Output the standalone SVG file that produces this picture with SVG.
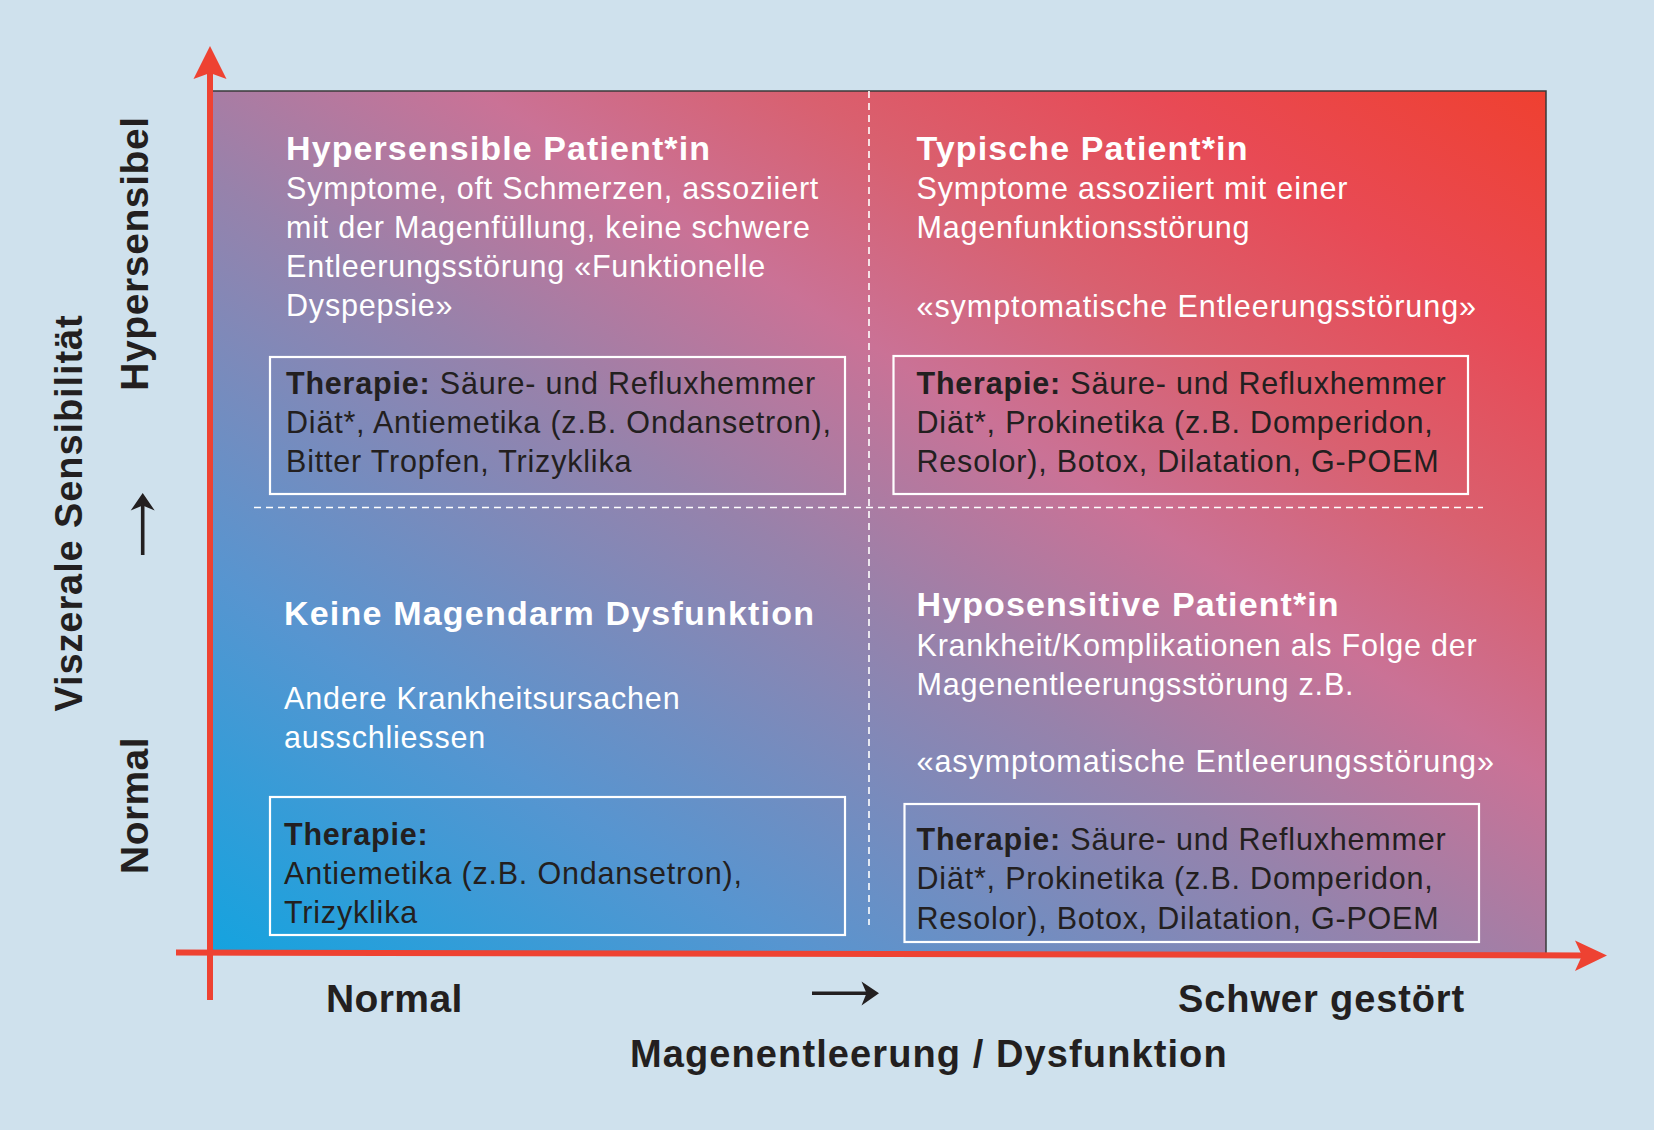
<svg xmlns="http://www.w3.org/2000/svg" width="1654" height="1130" viewBox="0 0 1654 1130">
<defs>
<linearGradient id="grad" x1="0" y1="1" x2="1" y2="0">
<stop offset="0" stop-color="#14a3df"/>
<stop offset="0.22" stop-color="#5795d0"/>
<stop offset="0.45" stop-color="#9782ab"/>
<stop offset="0.6" stop-color="#ca7296"/>
<stop offset="0.72" stop-color="#d9606f"/>
<stop offset="0.85" stop-color="#e84a55"/>
<stop offset="1" stop-color="#ef4030"/>
</linearGradient>
<style>
.t{font-family:"Liberation Sans",Arial,sans-serif;font-weight:bold;font-size:34px;fill:#fff;letter-spacing:1.1px}
.b{font-family:"Liberation Sans",Arial,sans-serif;font-size:30.5px;fill:#fff;letter-spacing:0.8px}
.q{letter-spacing:0.95px}
.th{font-family:"Liberation Sans",Arial,sans-serif;font-size:30.5px;fill:#231f20;letter-spacing:0.8px}
.k{font-weight:bold}
.ax{font-family:"Liberation Sans",Arial,sans-serif;font-weight:bold;font-size:38px;fill:#231f20;letter-spacing:0.9px}
.box{fill:none;stroke:#fff;stroke-width:2.2}
.dash{stroke:#fff;stroke-width:1.6;stroke-dasharray:7 5;fill:none}
.red{fill:#ee4232}
.blk{fill:#231f20}
</style>
</defs>
<rect x="0" y="0" width="1654" height="1130" fill="#cfe1ed"/>
<rect x="211" y="91" width="1335" height="862" fill="url(#grad)"/>
<path d="M211,91 H1546 V953" fill="none" stroke="#3a3a3a" stroke-width="1.5"/>
<g id="dividers">
<line class="dash" x1="254" y1="507.5" x2="1483" y2="507.5"/>
<line class="dash" x1="869" y1="91" x2="869" y2="925"/>
</g>
<g id="q-hypersensible">
<text class="t" x="286" y="159.5">Hypersensible Patient*in</text>
<text class="b" x="286" y="199">Symptome, oft Schmerzen, assoziiert</text>
<text class="b" x="286" y="238">mit der Magenfüllung, keine schwere</text>
<text class="b" x="286" y="277">Entleerungsstörung «Funktionelle</text>
<text class="b" x="286" y="315.5">Dyspepsie»</text>
<rect class="box" x="270" y="357" width="575" height="137"/>
<text class="th" x="286" y="393.5"><tspan class="k">Therapie:</tspan> Säure- und Refluxhemmer</text>
<text class="th" x="286" y="432.5">Diät*, Antiemetika (z.B. Ondansetron),</text>
<text class="th" x="286" y="471.5">Bitter Tropfen, Trizyklika</text>
</g>
<g id="q-typisch">
<text class="t" x="916.5" y="160">Typische Patient*in</text>
<text class="b" x="916.5" y="198.5">Symptome assoziiert mit einer</text>
<text class="b" x="916.5" y="238">Magenfunktionsstörung</text>
<text class="b q" x="916.5" y="316.5">«symptomatische Entleerungsstörung»</text>
<rect class="box" x="893.5" y="356" width="574.5" height="138"/>
<text class="th" x="916.5" y="394"><tspan class="k">Therapie:</tspan> Säure- und Refluxhemmer</text>
<text class="th" x="916.5" y="433">Diät*, Prokinetika (z.B. Domperidon,</text>
<text class="th" x="916.5" y="471.5">Resolor), Botox, Dilatation, G-POEM</text>
</g>
<g id="q-keine">
<text class="t" x="284" y="625" style="letter-spacing:1.2px">Keine Magendarm Dysfunktion</text>
<text class="b" x="284" y="709">Andere Krankheitsursachen</text>
<text class="b" x="284" y="747.5">ausschliessen</text>
<rect class="box" x="270" y="797" width="575" height="138"/>
<text class="th" x="284" y="844.5"><tspan class="k">Therapie:</tspan></text>
<text class="th" x="284" y="883.5">Antiemetika (z.B. Ondansetron),</text>
<text class="th" x="284" y="922.5">Trizyklika</text>
</g>
<g id="q-hyposensitiv">
<text class="t" x="916.5" y="616">Hyposensitive Patient*in</text>
<text class="b" x="916.5" y="655.5">Krankheit/Komplikationen als Folge der</text>
<text class="b" x="916.5" y="694.5">Magenentleerungsstörung z.B.</text>
<text class="b q" x="916.5" y="771.5">«asymptomatische Entleerungsstörung»</text>
<rect class="box" x="904.5" y="804" width="574.5" height="138"/>
<text class="th" x="916.5" y="850"><tspan class="k">Therapie:</tspan> Säure- und Refluxhemmer</text>
<text class="th" x="916.5" y="889">Diät*, Prokinetika (z.B. Domperidon,</text>
<text class="th" x="916.5" y="928.5">Resolor), Botox, Dilatation, G-POEM</text>
</g>
<g id="connectors">
<rect class="red" x="207" y="70" width="6" height="930"/>
<path class="red" d="M210,46 L226.5,79 L210,73 L193.5,79 Z"/>
<path class="red" d="M176,949.5 L1585,952.5 L1585,958.5 L176,955.5 Z"/>
<path class="red" d="M1607,955.5 L1575,940.5 L1582,955.5 L1575,971 Z"/>
<path d="M812,993.3 H868" stroke="#231f20" stroke-width="3.6"/>
<path class="blk" d="M879,993.3 L861.5,981.5 L866.5,993.3 L861.5,1005.5 Z"/>
<path d="M142.7,555 V503" stroke="#231f20" stroke-width="3.6"/>
<path class="blk" d="M142.7,493 L130.7,510.5 L142.7,505.5 L154.7,510.5 Z"/>
</g>
<g id="axis-labels">
<text class="ax" transform="translate(82,513) rotate(-90)" text-anchor="middle">Viszerale Sensibilität</text>
<text class="ax" transform="translate(148,253.5) rotate(-90)" text-anchor="middle" style="font-size:39px;letter-spacing:0.6px">Hypersensibel</text>
<text class="ax" transform="translate(148,805.5) rotate(-90)" text-anchor="middle" style="font-size:39px;letter-spacing:0.4px">Normal</text>
<text class="ax" x="326" y="1012" style="font-size:39px;letter-spacing:0.4px">Normal</text>
<text class="ax" x="1178" y="1012">Schwer gestört</text>
<text class="ax" x="630" y="1067" style="letter-spacing:1.1px">Magenentleerung / Dysfunktion</text>
</g>
</svg>
